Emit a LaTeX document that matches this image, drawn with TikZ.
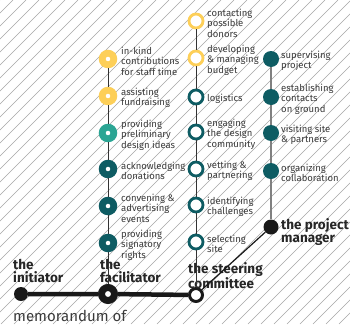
\documentclass[tikz,border=0pt]{standalone}
\usepackage{fontspec}
\setmainfont{Fira Sans}
\definecolor{ochre}{HTML}{FDCF58}
\definecolor{jade}{HTML}{2BA594}
\definecolor{petrol}{HTML}{0E5C63}
\definecolor{ink}{HTML}{3A3A3A}
\tikzset{
	hatch/.style={black!35, line width=0.5pt},
	ring/.style={circle, draw=#1, line width=6.8pt, fill=white, minimum size=11.6pt, inner sep=0pt},
	hoop/.style={circle, draw=#1, line width=2.8pt, fill=white, minimum size=14pt, inner sep=0pt},
	disc/.style={circle, fill=#1, minimum size=16pt, inner sep=0pt},
	lbl/.style={anchor=west, align=left, inner sep=0pt, yshift=-2pt, font=\fontsize{9.5}{10.5}\selectfont, text=ink},
	role/.style={anchor=north west, align=left, inner sep=0pt, font=\bfseries\fontsize{13.5}{13}\selectfont, text=black!85},
	stem/.style={black!80, line width=1pt},
}

\begin{document}
\begin{tikzpicture}[x=1pt, y=-1pt]
		%%%%% START %%%%%
		\useasboundingbox (0, 0) rectangle (350, 324);
		\fill[white] (0, 0) rectangle (350, 324);
		
		% background hatching
		\begin{scope}
			\clip (0, 0) rectangle (350, 324);
			\foreach \i in {0, 13, ..., 689}
				\draw[hatch] (\i-324, 324) -- (\i, 0);
		\end{scope}
		
		% the facilitator
		\node[ring=ochre] (f1) at (108, 59) {};
		\node[ring=ochre] (f2) at (108, 96) {};
		\node[ring=jade] (f3) at (108, 133) {};
		\node[ring=petrol] (f4) at (108, 169) {};
		\node[ring=petrol] (f5) at (108, 206) {};
		\node[ring=petrol] (f6) at (108, 243) {};
		
		\node[lbl] (f1t) at ([xshift=13pt]f1.center) {in-kind\\contributions\\for staff time};
		\node[lbl] (f2t) at ([xshift=13pt]f2.center) {assisting\\fundraising};
		\node[lbl] (f3t) at ([xshift=13pt]f3.center) {providing\\preliminary\\design ideas};
		\node[lbl] (f4t) at ([xshift=13pt]f4.center) {acknowledging\\donations};
		\node[lbl] (f5t) at ([xshift=13pt]f5.center) {convening \&\\advertising\\events};
		\node[lbl] (f6t) at ([xshift=13pt]f6.center) {providing\\signatory\\rights};
		
		% the steering committee
		\node[hoop=ochre] (s1) at (196, 21) {};
		\node[hoop=ochre] (s2) at (196, 58) {};
		\node[hoop=petrol] (s3) at (196, 97) {};
		\node[hoop=petrol] (s4) at (196, 132) {};
		\node[hoop=petrol] (s5) at (196, 169) {};
		\node[hoop=petrol] (s6) at (196, 205) {};
		\node[hoop=petrol] (s7) at (196, 242) {};
		
		\node[lbl] (s1t) at ([xshift=11pt]s1.center) {contacting\\possible\\donors};
		\node[lbl] (s2t) at ([xshift=11pt]s2.center) {developing\\\& managing\\budget};
		\node[lbl] (s3t) at ([xshift=11pt]s3.center) {logistics};
		\node[lbl] (s4t) at ([xshift=11pt]s4.center) {engaging\\the design\\community};
		\node[lbl] (s5t) at ([xshift=11pt]s5.center) {vetting \&\\partnering};
		\node[lbl] (s6t) at ([xshift=11pt]s6.center) {identifying\\challenges};
		\node[lbl] (s7t) at ([xshift=11pt]s7.center) {selecting\\site};
		
		% the project manager
		\node[disc=petrol] (p1) at (271, 59) {};
		\node[disc=petrol] (p2) at (271, 97) {};
		\node[disc=petrol] (p3) at (271, 133) {};
		\node[disc=petrol] (p4) at (271, 171) {};
		
		\node[lbl] (p1t) at ([xshift=10pt]p1.center) {supervising\\project};
		\node[lbl] (p2t) at ([xshift=10pt]p2.center) {establishing\\contacts\\on ground};
		\node[lbl] (p3t) at ([xshift=10pt]p3.center) {visiting site\\\& partners};
		\node[lbl] (p4t) at ([xshift=10pt]p4.center) {organizing\\collaboration};
		
		% the actors
		\node[circle, fill=black!90, minimum size=14pt, inner sep=0pt] (init) at (21, 294) {};
		\node[circle, draw=black!90, line width=7pt, fill=white, minimum size=13pt, inner sep=0pt] (fac) at (108, 294) {};
		\node[circle, draw=black!90, line width=3pt, fill=white, minimum size=13pt, inner sep=0pt] (sc) at (196, 295) {};
		\node[circle, fill=black!90, minimum size=15pt, inner sep=0pt] (pm) at (271, 227) {};
		
		\node[role] (initt) at (13, 259) {the\\initiator};
		\node[role] (fact) at (100, 259) {the\\facilitator};
		\node[role] (sct) at (188, 262) {the steering\\committee};
		\node[role] (pmt) at (281, 218) {the project\\manager};
		
		\node[anchor=base west, inner sep=0pt, font=\fontsize{15}{15}\selectfont, text=ink] (memo) at (13, 321) {memorandum of};
		
		% connectors
		\draw[black!90, line width=4.5pt] (init) -- (fac) -- (sc);
		\draw[stem] (fac) -- (f6) -- (f5) -- (f4) -- (f3) -- (f2) -- (f1);
		\draw[stem] (sc) -- (s7) -- (s6) -- (s5) -- (s4) -- (s3) -- (s2) -- (s1);
		\draw[black!90, line width=1.2pt] (sc) -- (pm);
		\draw[black!50, line width=2pt] (pm) -- (p4) -- (p3) -- (p2) -- (p1);
		%%%%% END %%%%%
\end{tikzpicture}
\end{document}
